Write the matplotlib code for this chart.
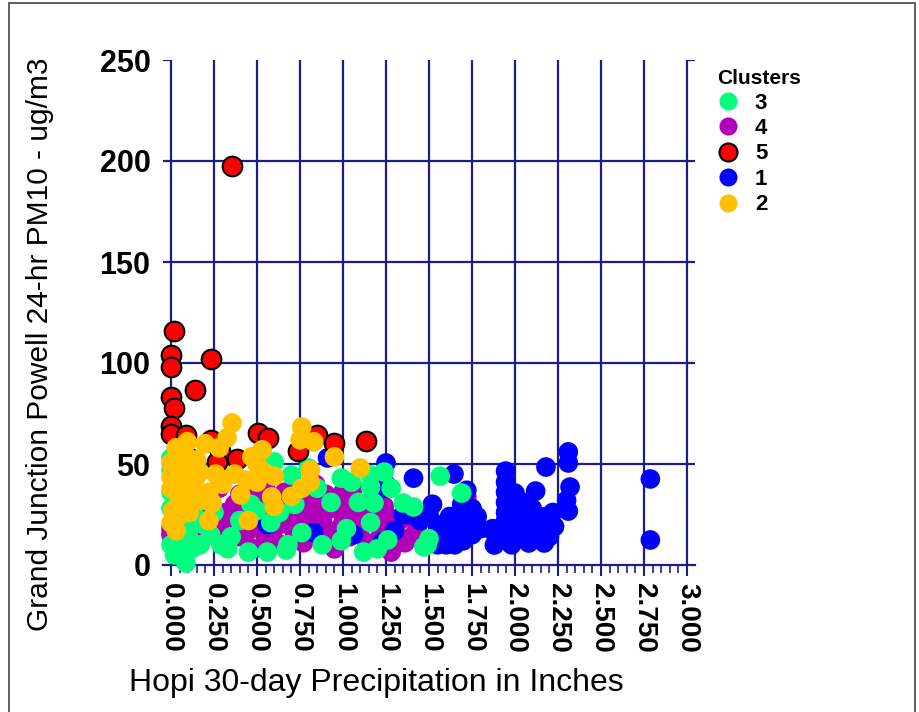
import matplotlib.pyplot as plt
from matplotlib.lines import Line2D
from matplotlib.patches import Rectangle

# Data: Hopi 30-day precipitation (in) vs PM10 (ug/m3)
c3_x = [0.0, 0.0, 0.0, 0.0, 0.0, 0.02, 0.087, 0.10, 0.116, 0.06, 0.17, 0.23, 0.29, 0.19, 0.25,
        0.12, 0.04, 0.33, 0.465, 0.50, 0.58, 0.45, 0.56, 0.68, 0.70, 0.60, 0.40, 0.76, 0.63, 0.67,
        0.88, 0.99, 1.02, 0.93, 0.99, 1.05, 1.16, 1.16, 1.28, 1.35, 1.41, 1.09, 1.18, 1.16, 1.26,
        1.12, 1.49, 1.47, 1.50, 1.565, 1.69, 1.24, 0.80, 0.85, 0.72, 1.20, 0.55, 0.35, 0.08, 0.14]
c3_y = [53, 47, 36, 28, 10, 5, 1, 15, 38, 20, 10, 15, 10, 20, 26,
        8, 12, 8, 30, 27, 21, 6.4, 6.4, 10, 44.5, 51, 22, 16, 26, 7.4,
        10, 12, 18, 31, 43, 41, 44.5, 38.6, 38, 30.7, 28.7, 31, 30.7, 21, 12.4,
        6.4, 10, 9, 13, 44, 35.6, 46, 48, 38, 30, 8, 50, 14, 28, 24]

c4_x = [0.0, 0.0, 0.02, 0.05, 0.08, 0.12, 0.15, 0.18, 0.20, 0.22, 0.25, 0.27, 0.28, 0.30, 0.32,
        0.35, 0.37, 0.40, 0.42, 0.45, 0.47, 0.48, 0.50, 0.52, 0.55, 0.57, 0.60, 0.62, 0.64, 0.66,
        0.68, 0.70, 0.72, 0.74, 0.75, 0.77, 0.79, 0.80, 0.82, 0.84, 0.86, 0.88, 0.90, 0.92, 0.94,
        0.96, 0.98, 1.00, 1.02, 1.04, 1.06, 1.08, 1.10, 1.12, 1.14, 1.16, 1.18, 1.20, 1.22, 1.24,
        1.26, 1.28, 1.30, 1.33, 1.36, 1.40, 1.43, 1.52, 1.55, 1.72, 1.25, 0.55, 0.65, 0.85, 0.40,
        1.00, 0.95, 0.17, 0.33, 0.60]
c4_y = [15, 18, 12, 22, 17, 24, 14, 28, 20, 32, 16, 22, 38, 12, 26,
        19, 30, 14, 24, 17, 34, 8, 21, 28, 13, 32, 18, 25, 10, 36,
        20, 29, 15, 38, 24, 11, 33, 18, 27, 40, 13, 22, 35, 17, 28,
        10, 32, 21, 26, 14, 38, 24, 18, 30, 11, 27, 35, 20, 15, 29,
        24, 6.4, 17, 22, 11, 14, 18, 30, 15, 33.7, 40, 38, 29, 30, 35,
        36, 8, 21, 19, 12]

c5_x = [0.354, 0.02, 0.0, 0.0, 0.233, 0.141, 0.0, 0.02, 0.0, 0.0, 0.09, 0.107, 0.233, 0.285,
        0.268, 0.383, 0.504, 0.562, 0.741, 0.85, 0.948, 1.133]
c5_y = [197.5, 115.8, 104, 98, 102, 86.6, 83.2, 77.7, 68.8, 64.9, 64.4, 53, 62, 56.4,
        51, 52.5, 65.3, 62.9, 56.4, 64.4, 60.4, 61.4]

c1_x = [0.56, 0.83, 1.06, 1.23, 0.91, 1.24, 1.25, 1.41, 1.40, 1.45, 1.30, 1.35,
        1.50, 1.52, 1.55, 1.57, 1.60, 1.62, 1.645, 1.65, 1.67, 1.68, 1.69, 1.70, 1.72,
        1.73, 1.75, 1.75, 1.78, 1.80, 1.60, 1.55, 1.87, 1.90, 1.92, 1.945, 1.945, 1.945, 1.945, 1.945,
        1.945, 1.945, 1.945, 1.96, 2.00, 2.02, 2.04, 2.05, 2.07, 2.08, 2.10, 2.12, 2.13, 2.15, 2.165,
        2.18, 2.18, 2.20, 2.20, 2.22, 2.23, 1.98, 2.025, 2.17, 2.08, 1.88, 1.865, 2.025, 2.31, 2.31,
        2.32, 2.30, 2.31, 2.787, 2.787]
c1_y = [20, 16, 15, 11.4, 53, 38, 50.5, 43, 24.8, 22, 17, 25,
        25, 30, 20, 14, 18, 24, 45, 10, 16, 22, 30, 12, 37,
        20, 28, 15, 24, 18, 10, 10, 18, 12, 17, 46.5, 41, 36, 31, 26,
        22, 17, 13, 20, 35.6, 15, 22, 30, 31, 18, 28, 36.6, 24, 16, 23.8,
        48.5, 15.8, 22, 14, 26, 19, 10, 28, 10.9, 10.9, 9.9, 17.3, 18.8, 56, 50.5,
        38.6, 32, 26.7, 42.6, 12.4]

c2_x = [0.0, 0.0, 0.0, 0.0, 0.01, 0.03, 0.03, 0.05, 0.09, 0.095, 0.105, 0.12, 0.147, 0.165, 0.175,
        0.20, 0.22, 0.24, 0.26, 0.30, 0.326, 0.355, 0.405, 0.44, 0.47, 0.50, 0.53, 0.54, 0.585, 0.60,
        0.02, 0.06, 0.08, 0.15, 0.07, 0.13, 0.04, 0.28, 0.22, 0.76, 0.75, 0.83, 0.81, 0.81, 0.95,
        1.10, 0.76, 0.70, 0.45, 0.60, 0.37, 0.50]
c2_y = [50.5, 43.6, 38, 20.8, 27, 58, 17, 33.7, 47, 61, 26, 41, 43.6, 46, 32,
        60, 36, 30.7, 45, 40, 63, 70.3, 34.7, 42, 53.5, 41, 57, 46, 33.7, 44,
        48, 40, 55, 52, 30, 36, 24, 58, 22, 68.3, 62, 61, 47, 41, 53.5,
        48, 38, 34, 22, 29, 45, 50]

clusters = {"3": (c3_x, c3_y, "#00FF7F"),
            "4": (c4_x, c4_y, "#B000B8"),
            "5": (c5_x, c5_y, "#FF0000"),
            "1": (c1_x, c1_y, "#0000FF"),
            "2": (c2_x, c2_y, "#FFC000")}
legend_order = ["3", "4", "5", "1", "2"]
draw_order = ["4", "1", "3", "5", "2"]   # later ones on top

navy = "#1c1c8a"
plt.rcParams['font.family'] = ['Liberation Sans', 'DejaVu Sans']

fig = plt.figure(figsize=(9.2, 7.12), dpi=100)
ax = fig.add_axes([163 / 920, 1 - 565 / 712, 532 / 920, 505 / 712])
ax.set_xlim(-0.0465, 3.0465)
ax.set_ylim(0, 250)

# grid: vertical lines at every 0.25, horizontal at 50..200
xt = [i * 0.25 for i in range(13)]
ax.vlines(xt, 0, 250, color=navy, lw=1.6, zorder=1)
ax.hlines([50, 100, 150, 200], -0.0465, 3.0465, color=navy, lw=1.6, zorder=1)
ax.hlines([250, 250], [-0.0465, 3.0], [0.0, 3.0465], color=navy, lw=1.6, zorder=1)

for s in ["top", "right", "left"]:
    ax.spines[s].set_visible(False)
ax.spines["bottom"].set_color(navy)
ax.spines["bottom"].set_linewidth(1.6)

for name in draw_order:
    xs, ys, col = clusters[name]
    ec = "black" if name == "5" else "none"
    ax.scatter(xs, ys, s=200, color=col, edgecolors=ec, linewidths=1.5,
               zorder=3, clip_on=False)

ax.set_xticks(xt)
ax.set_xticklabels([f"{v:.3f}" for v in xt], rotation=270, fontsize=20,
                   fontweight="bold")
ax.set_xticks([i * 0.05 for i in range(61)], minor=True)
ax.tick_params(axis="x", which="major", length=8, width=1.5, color=navy, pad=5)
ax.tick_params(axis="x", which="minor", length=6, width=1.2, color=navy)
for lab in ax.get_xticklabels():
    lab.set_va("top")

ax.set_yticks([0, 50, 100, 150, 200, 250])
ax.set_yticklabels(["0", "50", "100", "150", "200", "250"], fontsize=22,
                   fontweight="bold")
ax.tick_params(axis="y", length=0, pad=9)

fig.text(40 / 920, 1 - 344 / 712, "Grand Junction Powell 24-hr PM10 - ug/m3",
         rotation=90, ha="center", va="center", fontsize=21.5)
fig.text(376 / 920, 1 - 683 / 712, "Hopi 30-day Precipitation in Inches",
         ha="center", va="center", fontsize=23)

handles = [Line2D([], [], ls="none", marker="o", markersize=13,
                  markerfacecolor=clusters[n][2],
                  markeredgecolor="black" if n == "5" else clusters[n][2],
                  markeredgewidth=1.5 if n == "5" else 0) for n in legend_order]
leg = fig.legend(handles, legend_order, loc="upper left",
                 bbox_to_anchor=(706 / 920, 1 - 58 / 712), frameon=False,
                 title="Clusters", alignment="left", handlelength=1.0,
                 handletextpad=0.7, labelspacing=0.2, borderpad=0,
                 prop={"weight": "bold", "size": 16},
                 title_fontproperties={"weight": "bold", "size": 15})

fig.add_artist(Rectangle((9 / 920, -0.01), 906 / 920, 1 - 3 / 712 + 0.01,
                         transform=fig.transFigure, fill=False,
                         edgecolor="#444444", lw=1.2))

fig.savefig("out.png", dpi=100)
